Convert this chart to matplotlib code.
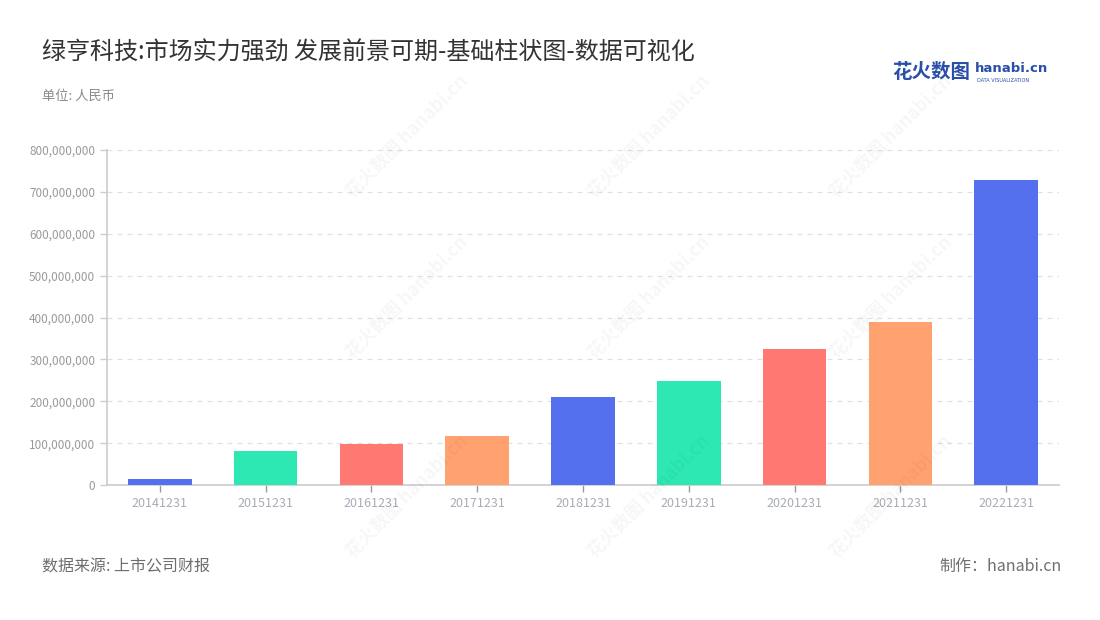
import matplotlib
matplotlib.use('Agg')
import matplotlib.pyplot as plt
from matplotlib.ticker import FuncFormatter

plt.rcParams['font.family'] = ['Noto Sans CJK SC', 'DejaVu Sans']

# data
dates = ['20141231', '20151231', '20161231', '20171231', '20181231',
         '20191231', '20201231', '20211231', '20221231']
values = [13.5e6, 81e6, 97e6, 117e6, 210e6, 248e6, 326e6, 389e6, 728e6]
palette = ['#5470ee', '#2de8b2', '#ff7872', '#ffa26f']

title = '绿亨科技:市场实力强劲 发展前景可期-基础柱状图-数据可视化'
unit = '单位: 人民币'
source = '数据来源: 上市公司财报'
maker = '制作：hanabi.cn'

fig = plt.figure(figsize=(11, 6.2), dpi=100)
ax = fig.add_axes([0.0973, 0.2177, 0.8654, 0.5403])

x = range(len(dates))
colors = [palette[i % len(palette)] for i in x]
ax.bar(x, values, width=0.6, color=colors, zorder=3)

ax.set_xlim(-0.5, len(dates) - 0.5)
ax.set_ylim(0, 800e6)
ax.set_yticks([i * 100e6 for i in range(9)])
ax.yaxis.set_major_formatter(FuncFormatter(lambda v, p: f'{int(v):,}'))
ax.set_xticks(list(x))
ax.set_xticklabels(dates)

ax.grid(axis='y', color='#e0e0e0', linestyle=(0, (4, 4)), linewidth=0.9, zorder=0)
for s in ['top', 'right']:
    ax.spines[s].set_visible(False)
for s in ['left', 'bottom']:
    ax.spines[s].set_color('#cccccc')
    ax.spines[s].set_linewidth(1.2)
ax.tick_params(axis='y', colors='#cccccc', labelcolor='#9a9a9a', labelsize=8.5, length=5, width=1)
ax.tick_params(axis='x', colors='#999999', labelcolor='#a8acb8', labelsize=9, length=5, width=1)

fig.text(0.038, 0.915, title, fontsize=17.3, color='#333333', va='center')
fig.text(0.038, 0.845, unit, fontsize=9.5, color='#8a8a8a', va='center')
fig.text(0.038, 0.086, source, fontsize=11.5, color='#6e6e6e', va='center')
fig.text(0.965, 0.086, maker, fontsize=11.5, color='#6e6e6e', va='center', ha='right')

# logo
fig.text(0.811, 0.883, '花火数图', fontsize=14, color='#2a4fa8', fontweight='bold', va='center')
fig.text(0.886, 0.889, 'hanabi.cn', fontsize=9.5, color='#2a4fa8', fontweight='bold',
         va='center', family=['DejaVu Sans'])
fig.text(0.888, 0.870, 'DATA VISUALIZATION', fontsize=3.6, color='#2a4fa8', va='center',
         family=['DejaVu Sans'])

# faint watermarks
for wx in [0.37, 0.59, 0.81]:
    for wy in [0.78, 0.52, 0.20]:
        fig.text(wx, wy, '花火数图 hanabi.cn', fontsize=13, color='#000000', alpha=0.035,
                 rotation=45, ha='center', va='center', fontweight='bold')

fig.savefig('out.png', dpi=100)
